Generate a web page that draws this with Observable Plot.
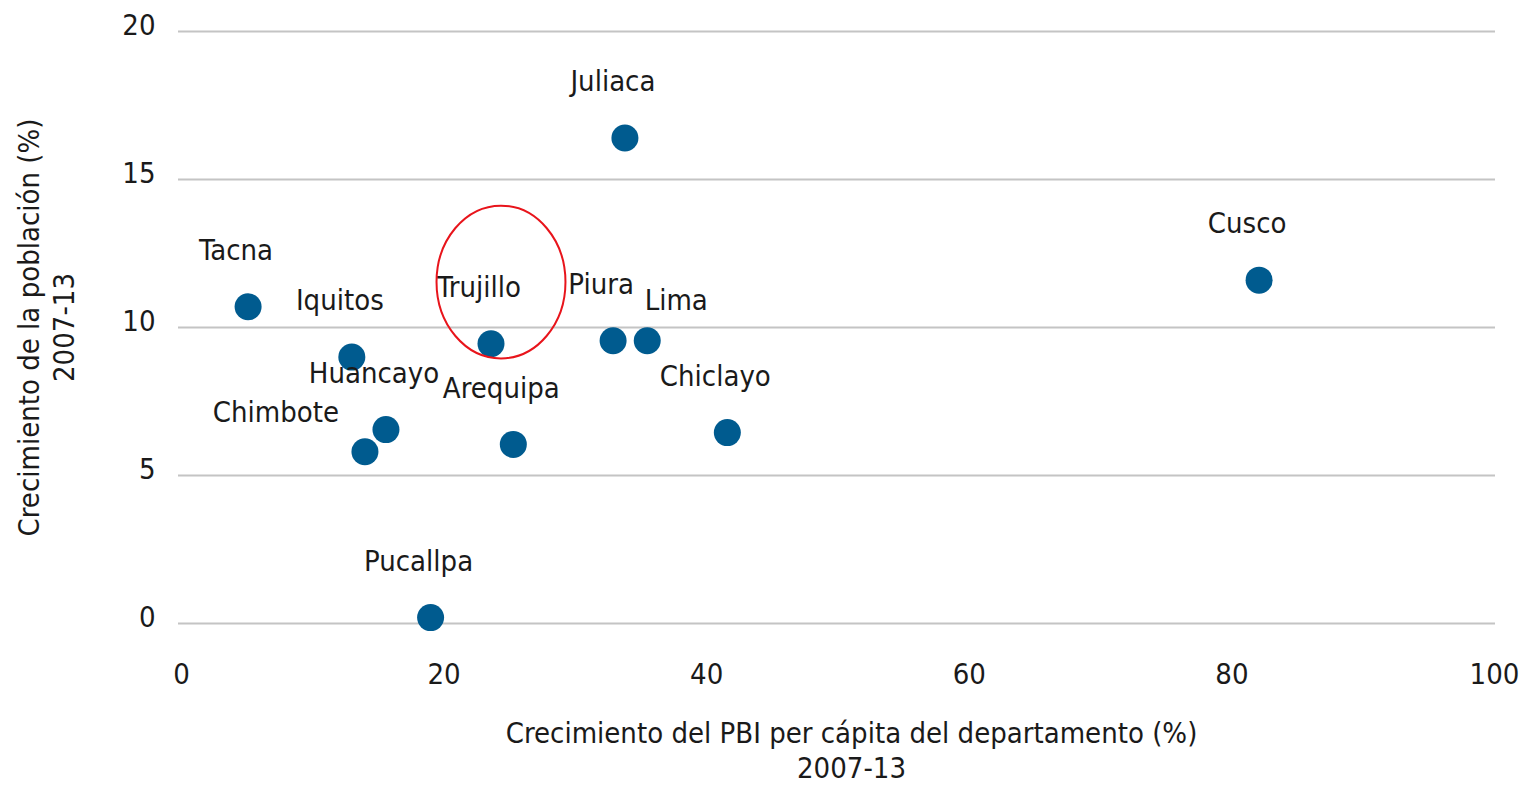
<!DOCTYPE html>
<html>
<head>
<meta charset="utf-8">
<script src="https://cdn.jsdelivr.net/npm/d3@7"></script>
<script src="https://cdn.jsdelivr.net/npm/@observablehq/plot@0.6"></script>
<style>
  html, body { margin: 0; padding: 0; background: #fff; }
  #chart svg { display: block; }
</style>
</head>
<body>
<div id="chart"></div>
<script>
// Data
const cities = ["Tacna", "Iquitos", "Huancayo", "Chimbote", "Pucallpa", "Trujillo", "Arequipa", "Juliaca", "Piura", "Lima", "Chiclayo", "Cusco"];
const gdpGrowth = [5.3, 13.2, 15.8, 14.2, 19.2, 23.8, 25.5, 34.0, 33.1, 35.7, 41.8, 82.3];
const popGrowth = [10.7, 9.0, 6.55, 5.8, 0.2, 9.45, 6.05, 16.4, 9.55, 9.55, 6.45, 11.6];
const xTicks = [0, 20, 40, 60, 80, 100];
const yTicks = [0, 5, 10, 15, 20];
const xTitle = "Crecimiento del PBI per cápita del departamento (%)\n2007-13";
const yTitle = "Crecimiento de la población (%)\n2007-13";
const highlight = {city: "Trujillo", cx: 24.6, cy: 11.52, rx: 4.91, ry: 2.58};

const data = cities.map((c, i) => ({city: c, x: gdpGrowth[i], y: popGrowth[i]}));

const font = "'Liberation Sans Narrow', 'DejaVu Sans Condensed', sans-serif";
const fs = 29;
const ink = "#1a1a1a";
const dotColor = "#005b8f";

// label placement exceptions (layout only)
const leftLabels = new Set(["Chimbote"]);
const rightLabels = new Set(["Lima"]);
const normal = data.filter(d => !leftLabels.has(d.city) && !rightLabels.has(d.city));

const ellipseMark = (index, scales) => {
  const ns = "http://www.w3.org/2000/svg";
  const e = document.createElementNS(ns, "ellipse");
  const cx = scales.x(highlight.cx), cy = scales.y(highlight.cy);
  e.setAttribute("cx", cx);
  e.setAttribute("cy", cy);
  e.setAttribute("rx", Math.abs(scales.x(highlight.cx + highlight.rx) - cx));
  e.setAttribute("ry", Math.abs(scales.y(highlight.cy + highlight.ry) - cy));
  e.setAttribute("fill", "none");
  e.setAttribute("stroke", "#e8141b");
  e.setAttribute("stroke-width", 2);
  return e;
};

const chart = Plot.plot({
  width: 1519,
  height: 785,
  marginLeft: 178,
  marginRight: 28,
  marginTop: 31,
  marginBottom: 162,
  x: {domain: [0, 100]},
  y: {domain: [0, 20]},
  style: {fontFamily: font, fontSize: fs + "px", color: ink, background: "#fff"},
  marks: [
    Plot.ruleY(yTicks, {stroke: "#c4c4c4", strokeWidth: 2, insetRight: -4}),
    Plot.axisY(yTicks, {tickSize: 0, tickPadding: 23, dy: -6, label: null, fontSize: fs}),
    Plot.axisX(xTicks, {tickSize: 0, tickPadding: 40, dx: 3, label: null, fontSize: fs}),
    Plot.dot(data, {x: "x", y: "y", r: 13.5, fill: dotColor, stroke: null}),
    Plot.text(normal, {x: "x", y: "y", text: "city", dx: -12, dy: -56, fill: ink, fontSize: fs}),
    Plot.text(data.filter(d => leftLabels.has(d.city)), {x: "x", y: "y", text: "city", dx: -89, dy: -39, fill: ink, fontSize: fs}),
    Plot.text(data.filter(d => rightLabels.has(d.city)), {x: "x", y: "y", text: "city", dx: 29, dy: -40, fill: ink, fontSize: fs}),
    ellipseMark,
    Plot.text([xTitle], {frameAnchor: "bottom", textAnchor: "middle", lineAnchor: "middle", dx: 16.5, dy: 126, lineHeight: 1.2, fill: ink, fontSize: fs}),
    Plot.text([yTitle], {frameAnchor: "left", textAnchor: "middle", lineAnchor: "middle", rotate: -90, dx: -133.5, lineHeight: 1.2, fill: ink, fontSize: fs})
  ]
});
document.getElementById("chart").appendChild(chart);
</script>
</body>
</html>
